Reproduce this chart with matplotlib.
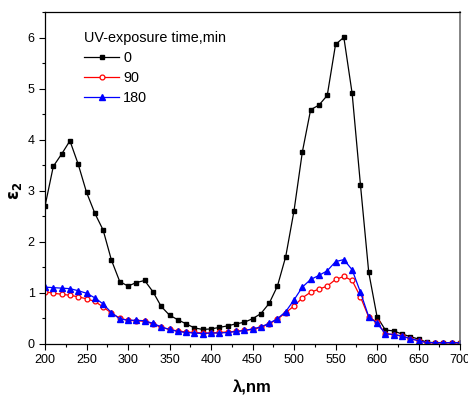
import matplotlib
matplotlib.use("Agg")
import matplotlib.pyplot as plt
import numpy as np
from matplotlib.ticker import MultipleLocator

plt.rcParams['font.family'] = ['Liberation Sans', 'DejaVu Sans']

wavelength = list(range(200, 701, 10))

eps_0 = [2.70, 3.48, 3.72, 3.98, 3.52, 2.97, 2.56, 2.23, 1.64, 1.22,
         1.13, 1.20, 1.24, 1.02, 0.73, 0.56, 0.47, 0.39, 0.31, 0.28,
         0.29, 0.32, 0.35, 0.39, 0.42, 0.49, 0.59, 0.79, 1.13, 1.71,
         2.61, 3.76, 4.59, 4.68, 4.87, 5.87, 6.01, 4.91, 3.12, 1.40,
         0.53, 0.27, 0.25, 0.19, 0.14, 0.09, 0.03, 0.02, 0.02, 0.02, 0.02]

eps_90 = [1.02, 0.99, 0.97, 0.95, 0.92, 0.88, 0.83, 0.72, 0.60, 0.50,
          0.46, 0.45, 0.44, 0.39, 0.32, 0.28, 0.25, 0.23, 0.22, 0.21,
          0.21, 0.22, 0.23, 0.24, 0.26, 0.28, 0.32, 0.39, 0.48, 0.61,
          0.74, 0.90, 1.01, 1.07, 1.13, 1.26, 1.32, 1.24, 0.92, 0.52,
          0.43, 0.19, 0.18, 0.15, 0.10, 0.06, 0.02, 0.02, 0.02, 0.02, 0.02]

eps_180 = [1.11, 1.10, 1.09, 1.08, 1.04, 0.99, 0.90, 0.78, 0.61, 0.49,
           0.46, 0.46, 0.45, 0.40, 0.33, 0.28, 0.24, 0.22, 0.21, 0.20,
           0.21, 0.21, 0.22, 0.24, 0.26, 0.29, 0.33, 0.40, 0.49, 0.63,
           0.86, 1.11, 1.26, 1.34, 1.43, 1.61, 1.65, 1.45, 1.01, 0.53,
           0.40, 0.20, 0.18, 0.15, 0.10, 0.06, 0.02, 0.02, 0.02, 0.02, 0.02]

series_labels = ['0', '90', '180']
legend_title = 'UV-exposure time,min'

fig = plt.figure(figsize=(4.68, 3.98), dpi=100)
ax = fig.add_axes([0.0962, 0.1364, 0.8868, 0.8326])

ax.plot(wavelength, eps_0, color='black', lw=0.9, marker='s', ms=3.5,
        mfc='black', mec='black', label=series_labels[0])
ax.plot(wavelength, eps_90, color='red', lw=0.9, marker='o', ms=3.5,
        mfc='white', mec='red', mew=0.9, label=series_labels[1])
ax.plot(wavelength, eps_180, color='blue', lw=0.9, marker='^', ms=4.0,
        mfc='blue', mec='blue', label=series_labels[2])

ax.set_xlim(200, 700)
ax.set_ylim(0, 6.5)
ax.xaxis.set_major_locator(MultipleLocator(50))
ax.xaxis.set_minor_locator(MultipleLocator(25))
ax.yaxis.set_major_locator(MultipleLocator(1))
ax.yaxis.set_minor_locator(MultipleLocator(0.5))
ax.tick_params(which='major', direction='out', length=4, width=0.8,
               labelsize=9, top=False, right=False, color='black')
ax.tick_params(which='minor', direction='out', length=2.5, width=0.8,
               top=False, right=False)
for s in ['left', 'bottom', 'top']:
    ax.spines[s].set_linewidth(0.9)
    ax.spines[s].set_color('black')
ax.spines['right'].set_color('#707070')
ax.spines['right'].set_linewidth(1.2)

ax.set_xlabel('λ,nm', fontsize=12, fontweight='bold', labelpad=10)
ax.set_ylabel(r'$\mathbf{\varepsilon_2}$', fontsize=12)
ax.yaxis.set_label_coords(-0.05, 0.46)

leg = ax.legend(title=legend_title, loc='upper left',
                bbox_to_anchor=(0.07, 0.975), frameon=False,
                fontsize=10.4, title_fontsize=10.4, handlelength=2.4,
                handletextpad=0.3, labelspacing=0.42, borderpad=0.2)
leg._legend_box.align = 'left'

fig.savefig('out.png', dpi=100)
